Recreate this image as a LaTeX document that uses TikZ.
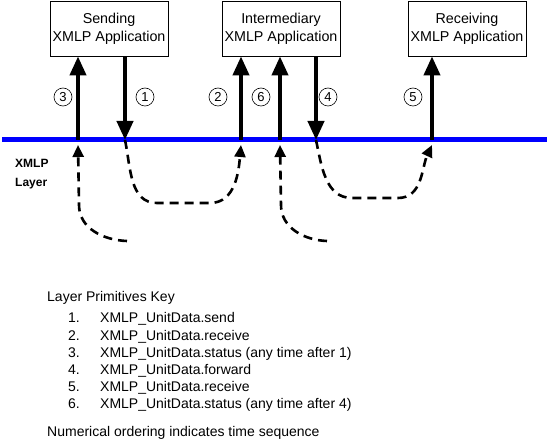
\documentclass[tikz,border=0pt]{standalone}
\usepackage{fontspec}
\setmainfont{Liberation Sans}
\usetikzlibrary{arrows.meta}

\tikzset{
  app/.style={draw, line width=0.8pt, minimum width=118pt, minimum height=55pt,
    inner sep=0.5pt, align=center, font=\fontsize{14.3}{18}\selectfont},
  prim/.style={line width=4pt, -{Triangle[length=19pt,width=16pt]}},
  flow/.style={line width=2.6pt, dash pattern=on 9pt off 6pt,
    -{Triangle[length=12pt,width=11pt]}},
  seq/.style={draw, circle, line width=0.6pt, minimum size=18pt, inner sep=0pt,
    font=\fontsize{13}{13}\selectfont},
  keytext/.style={anchor=base west, inner sep=0pt, font=\fontsize{14}{14}\selectfont}
}

\begin{document}
\begin{tikzpicture}[x=1pt, y=1pt]
        \useasboundingbox (0,0) rectangle (552,-446);

        \node[app] (send) at (109,-28.5) {Sending\\XMLP Application};
        \node[app] (inter) at (281,-28.5) {Intermediary\\XMLP Application};
        \node[app] (recv) at (467,-28.5) {Receiving\\XMLP Application};

        % XMLP layer
        \draw[blue, line width=5pt] (2,-140) -- (547,-140);
        \node[anchor=base west, inner sep=0pt, align=left, font=\fontsize{12}{19}\selectfont\bfseries]
            (layer) at (15,-187) {XMLP\\Layer};

        \coordinate (l3) at (78,-140);
        \coordinate (l1) at (125,-140);
        \coordinate (l2) at (241,-140);
        \coordinate (l6) at (280,-140);
        \coordinate (l4) at (316,-140);
        \coordinate (l5) at (432,-140);
        \coordinate (t3) at (127,-241);
        \coordinate (t6) at (327,-241);

        % primitives
        \draw[prim] (send.south -| l1) -- (l1);
        \draw[prim] (l3) -- (l3 |- send.south);
        \draw[prim] (l2) -- (l2 |- inter.south);
        \draw[prim] (l6) -- (l6 |- inter.south);
        \draw[prim] (inter.south -| l4) -- (l4);
        \draw[prim] (l5) -- (l5 |- recv.south);

        \node[seq] (c3) at (63,-97) {3};
        \node[seq] (c1) at (145,-97) {1};
        \node[seq] (c2) at (218,-97) {2};
        \node[seq] (c6) at (261,-97) {6};
        \node[seq] (c4) at (328,-97) {4};
        \node[seq] (c5) at (413,-97) {5};

        % messages below the layer
        \draw[flow] (l1) to[out=-78, in=180] (157,-203) -- (210,-203)
            to[out=0, in=-95] ([yshift=-5pt]l2);
        \draw[flow] (t3) to[out=178, in=-90] (79,-205) -- ([yshift=-5pt]l3);
        \draw[flow] (l4) to[out=-78, in=180] (352,-198) -- (398,-198)
            to[out=0, in=-115] ([yshift=-5pt]l5);
        \draw[flow] (t6) to[out=178, in=-90] (281,-205) -- ([yshift=-5pt]l6);

        % key
        \node[keytext] (keyhead) at (47,-302) {Layer Primitives Key};
        \foreach \n/\t in {1/XMLP\_UnitData.send, 2/XMLP\_UnitData.receive,
            3/XMLP\_UnitData.status (any time after 1), 4/XMLP\_UnitData.forward,
            5/XMLP\_UnitData.receive, 6/XMLP\_UnitData.status (any time after 4)} {
            \node[keytext] (num\n) at (68,{-323-17.2*(\n-1)}) {\n.};
            \node[keytext] (item\n) at (100,{-323-17.2*(\n-1)}) {\t};
        }
        \node[keytext] (note) at (47,-436) {Numerical ordering indicates time sequence};

    \end{tikzpicture}
\end{document}
